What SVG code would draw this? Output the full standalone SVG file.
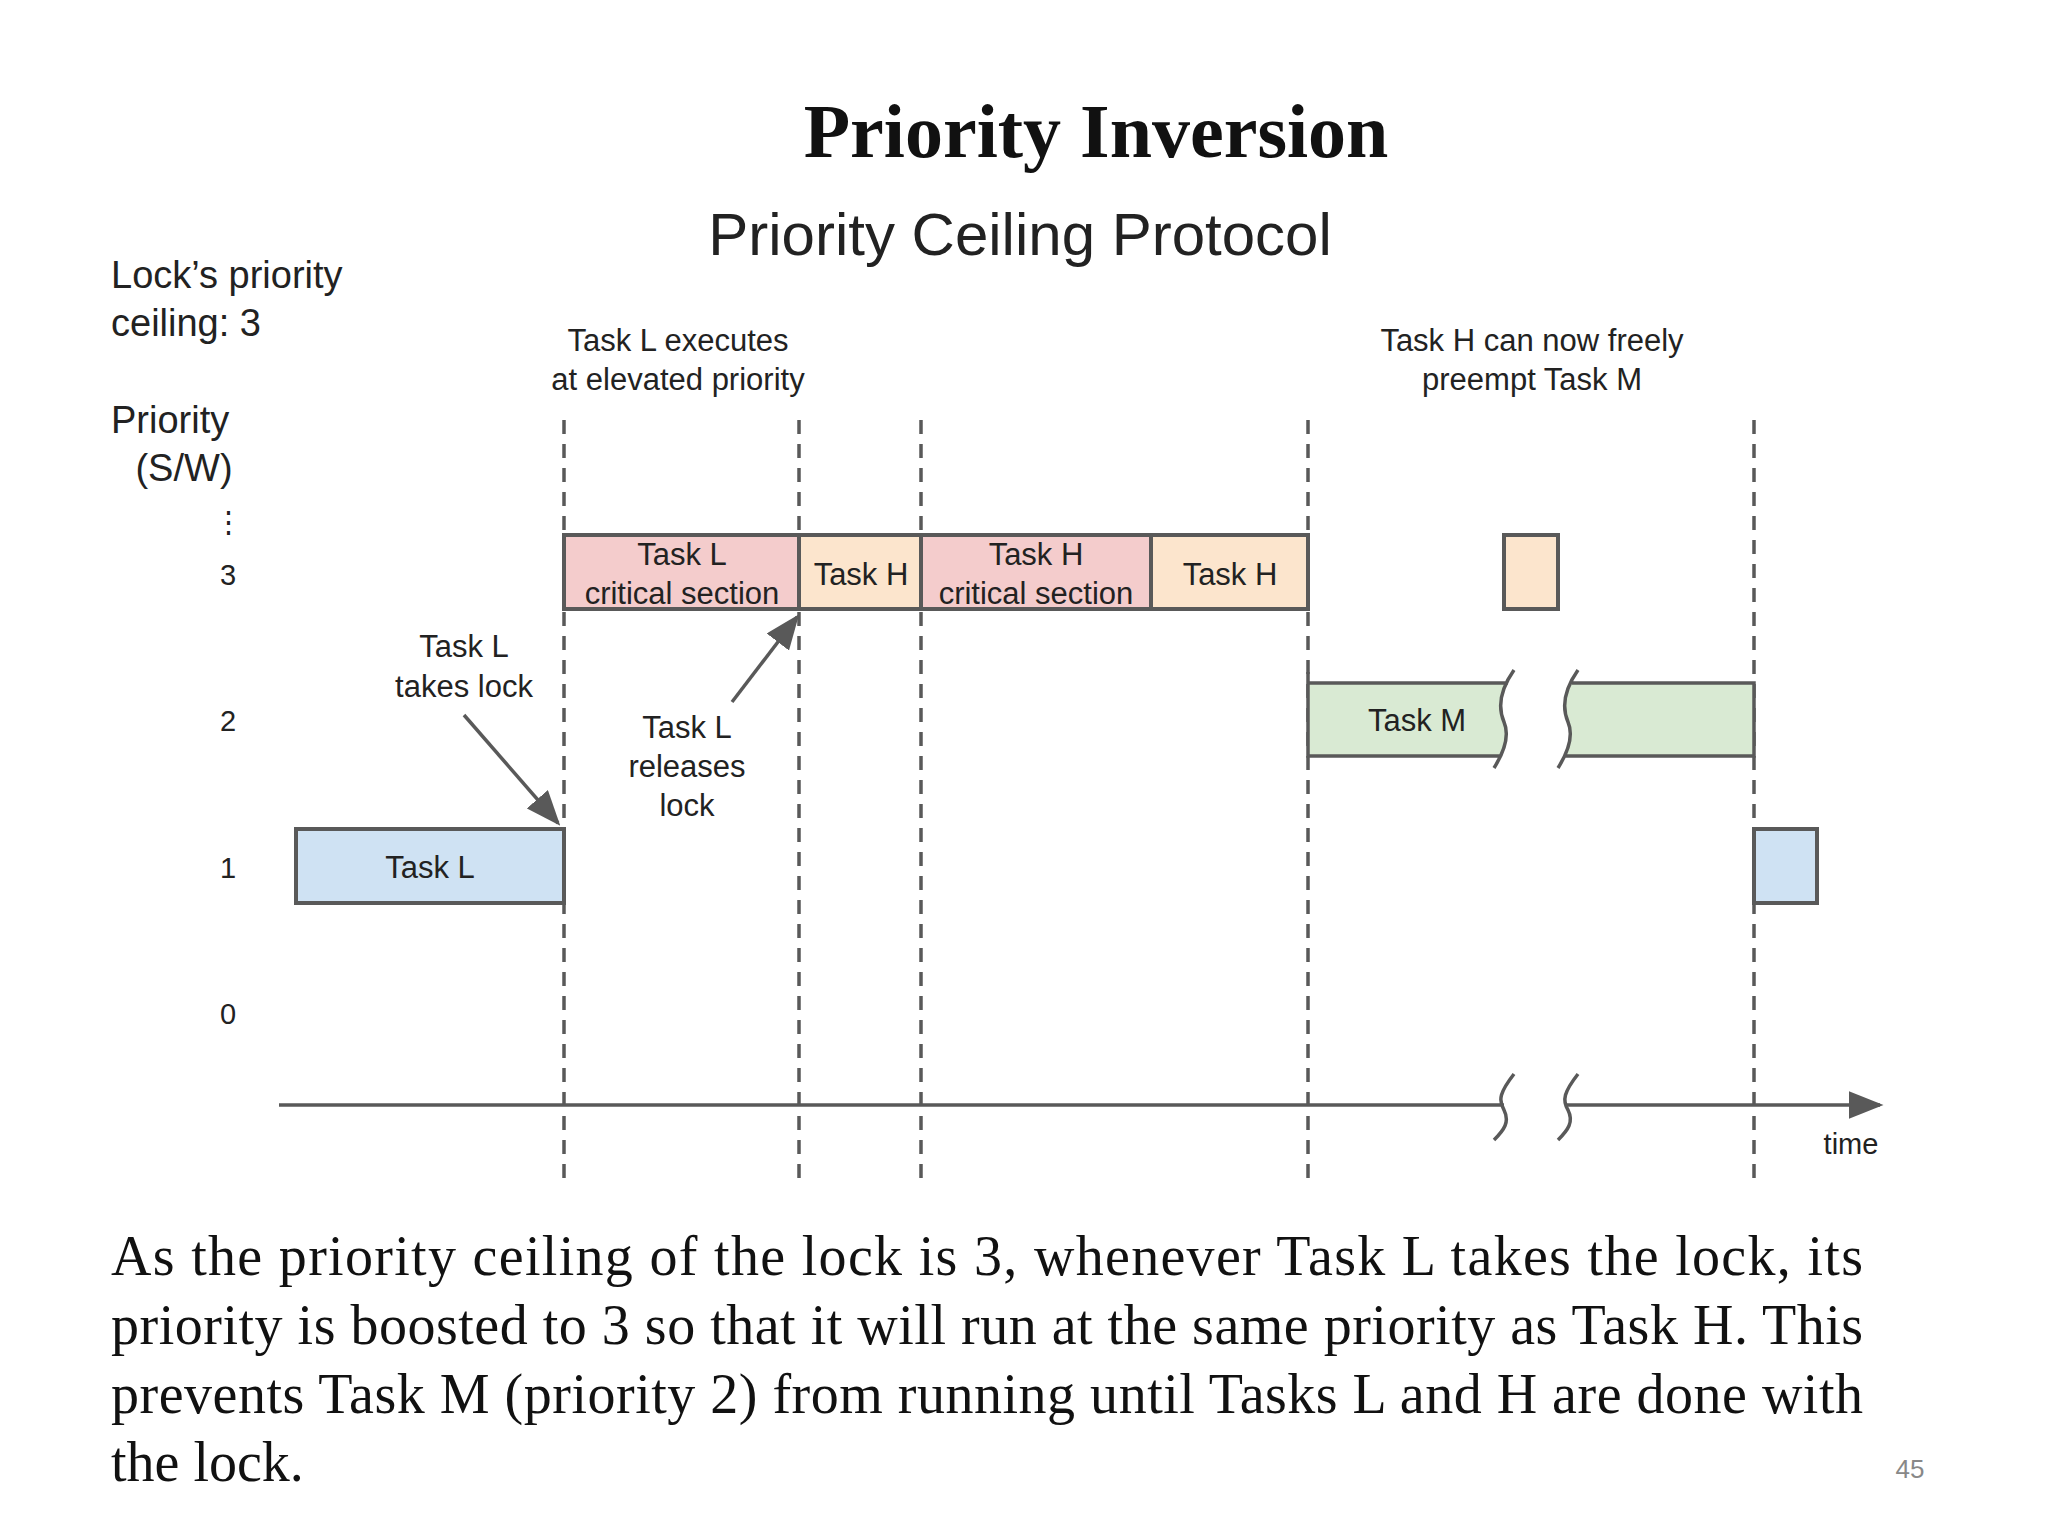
<svg xmlns="http://www.w3.org/2000/svg" width="2048" height="1536" viewBox="0 0 2048 1536">
<style>
.s{font-family:"Liberation Sans",Arial,sans-serif;fill:#222}
.serif{font-family:"Liberation Serif","Times New Roman",serif;fill:#111}
.box{stroke:#595959;stroke-width:4}
.dash{stroke:#595959;stroke-width:3.5;stroke-dasharray:14 10;fill:none}
.ln{stroke:#595959;stroke-width:3.5;fill:none}
.pink{fill:#f4cccc}.orange{fill:#fce5cd}.green{fill:#d9ead3}.blue{fill:#cfe2f3}
</style>
<defs>
<marker id="ah" markerWidth="10" markerHeight="8" refX="9" refY="4" orient="auto" markerUnits="strokeWidth"><path d="M0,0 L10,4 L0,8 z" fill="#595959"/></marker>
</defs>
<rect width="2048" height="1536" fill="#fff"/>
<text class="serif" x="1096" y="157" font-size="76" font-weight="bold" text-anchor="middle">Priority Inversion</text>
<text class="s" x="1020" y="255" font-size="60" text-anchor="middle">Priority Ceiling Protocol</text>
<g class="s" font-size="38">
<text x="111" y="288">Lock’s priority</text>
<text x="111" y="336">ceiling: 3</text>
<text x="111" y="433">Priority</text>
<text x="184" y="481" text-anchor="middle">(S/W)</text>
</g>
<g class="s" font-size="29" text-anchor="middle">
<text x="228" y="532">⋮</text>
<text x="228" y="585">3</text>
<text x="228" y="731">2</text>
<text x="228" y="878">1</text>
<text x="228" y="1024">0</text>
</g>
<g class="s" font-size="31" text-anchor="middle">
<text x="678" y="351">Task L executes</text>
<text x="678" y="390">at elevated priority</text>
<text x="1532" y="351">Task H can now freely</text>
<text x="1532" y="390">preempt Task M</text>
</g>
<g id="gridlines">
<line class="dash" x1="564" y1="420" x2="564" y2="1184"/>
<line class="dash" x1="799" y1="420" x2="799" y2="1184"/>
<line class="dash" x1="921" y1="420" x2="921" y2="1184"/>
<line class="dash" x1="1308" y1="420" x2="1308" y2="1184"/>
<line class="dash" x1="1754" y1="420" x2="1754" y2="1184"/>
</g>
<g id="taskL1"><rect class="box blue" x="296" y="829" width="268" height="74"/><text class="s" x="430" y="878" font-size="31" text-anchor="middle">Task L</text></g>
<g id="taskLcs"><rect class="box pink" x="564" y="535" width="235" height="74"/><text class="s" x="682" y="565" font-size="31" text-anchor="middle">Task L</text><text class="s" x="682" y="604" font-size="31" text-anchor="middle">critical section</text></g>
<g id="taskH1"><rect class="box orange" x="799" y="535" width="122" height="74"/><text class="s" x="861" y="585" font-size="31" text-anchor="middle">Task H</text></g>
<g id="taskHcs"><rect class="box pink" x="921" y="535" width="230" height="74"/><text class="s" x="1036" y="565" font-size="31" text-anchor="middle">Task H</text><text class="s" x="1036" y="604" font-size="31" text-anchor="middle">critical section</text></g>
<g id="taskH2"><rect class="box orange" x="1151" y="535" width="157" height="74"/><text class="s" x="1230" y="585" font-size="31" text-anchor="middle">Task H</text></g>
<g id="taskH3"><rect class="box orange" x="1504" y="535" width="54" height="74"/></g>
<g id="taskM">
<path class="green" d="M1308,683 L1508,683 C1498,700 1498,712 1504,722 C1510,734 1506,746 1500,756 L1308,756 Z"/>
<path class="green" d="M1572,683 L1754,683 L1754,756 L1564,756 C1570,746 1574,734 1568,722 C1562,712 1562,700 1572,683 Z"/>
<path class="ln" d="M1308,672 L1308,756 L1500,756 M1308,683 L1508,683 M1514,670 C1500,690 1498,708 1504,722 C1510,736 1504,752 1494,768"/>
<path class="ln" d="M1578,670 C1564,690 1562,708 1568,722 C1574,736 1568,752 1558,768 M1572,683 L1754,683 L1754,756 L1564,756"/>
<text class="s" x="1417" y="731" font-size="31" text-anchor="middle">Task M</text>
</g>
<g id="taskL2"><rect class="box blue" x="1754" y="829" width="63" height="74"/></g>
<g id="connectors">
<path class="ln" d="M279,1105 L1504,1105 M1514,1074 C1500,1092 1498,1100 1504,1110 C1510,1122 1504,1130 1494,1140"/>
<path class="ln" d="M1578,1074 C1564,1092 1562,1100 1568,1110 C1574,1122 1568,1130 1558,1140"/>
<line class="ln" x1="1566" y1="1105" x2="1880" y2="1105" marker-end="url(#ah)"/>
<line class="ln" x1="464" y1="715" x2="558" y2="823" marker-end="url(#ah)"/>
<line class="ln" x1="732" y1="702" x2="797" y2="617" marker-end="url(#ah)"/>
</g>
<g class="s" font-size="31" text-anchor="middle">
<text x="1851" y="1154" font-size="29">time</text>
<text x="464" y="657">Task L</text>
<text x="464" y="697">takes lock</text>
<text x="687" y="738">Task L</text>
<text x="687" y="777">releases</text>
<text x="687" y="816">lock</text>
</g>
<g class="serif" font-size="56">
<text x="111" y="1275" textLength="1752" lengthAdjust="spacing">As the priority ceiling of the lock is 3, whenever Task L takes the lock, its</text>
<text x="111" y="1344" textLength="1752" lengthAdjust="spacing">priority is boosted to 3 so that it will run at the same priority as Task H. This</text>
<text x="111" y="1413" textLength="1752" lengthAdjust="spacing">prevents Task M (priority 2) from running until Tasks L and H are done with</text>
<text x="111" y="1481">the lock.</text>
</g>
<text class="s" x="1910" y="1478" font-size="26" text-anchor="middle" fill="#888" style="fill:#888">45</text>
</svg>
